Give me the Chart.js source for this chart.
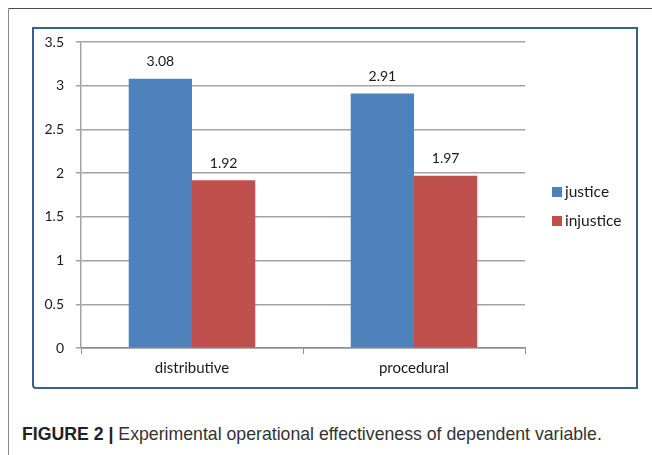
<!DOCTYPE html>
<html>
<head>
<meta charset="utf-8">
<script src="https://cdn.jsdelivr.net/npm/chart.js@4.4.1/dist/chart.umd.min.js"></script>
<style>
    html, body { margin: 0; padding: 0; background: #fff; }
    body { width: 652px; height: 455px; position: relative; overflow: hidden; }
    .frame-top { position: absolute; left: 8px; top: 8px; width: 644px; height: 1px; background: #4a4a4a; }
    .frame-left { position: absolute; left: 8px; top: 8px; width: 1px; height: 447px; background: #8a8a8a; }
    .chart-box {
        position: absolute; left: 32px; top: 27px; width: 602px; height: 358px;
        border: 2px solid #3a5f8f; border-radius: 0 0 0 4px;
    }
    .chart-box canvas { display: block; }
    .caption {
        position: absolute; left: 22px; top: 424px; white-space: nowrap;
        font-family: 'Liberation Sans', Arial, sans-serif; font-size: 17.7px; color: #333;
    }
    .caption b { color: #222; }
</style>
</head>
<body>
<div class="frame-top"></div>
<div class="frame-left"></div>
<div class="chart-box"><canvas id="effectChart" width="602" height="358"></canvas></div>
<div class="caption"><b>FIGURE 2 |</b> Experimental operational effectiveness of dependent variable.</div>

<script>
const categories = ['distributive', 'procedural'];
const justiceValues = [3.08, 2.91];
const injusticeValues = [1.92, 1.97];
const seriesNames = ['justice', 'injustice'];
const yTicks = [0, 0.5, 1, 1.5, 2, 2.5, 3, 3.5];

document.addEventListener('DOMContentLoaded', function () {
    initEffectChart();
});

const fontFamily = "Lato, 'DejaVu Sans', sans-serif";

const valueLabels = {
    id: 'valueLabels',
    afterDatasetsDraw(chart) {
        const ctx = chart.ctx;
        ctx.save();
        ctx.font = '14px ' + fontFamily;
        ctx.fillStyle = '#1a1a1a';
        ctx.textAlign = 'center';
        ctx.textBaseline = 'middle';
        chart.data.datasets.forEach((ds, i) => {
            chart.getDatasetMeta(i).data.forEach((bar, j) => {
                ctx.fillText(ds.data[j].toFixed(2), bar.x, bar.y - 17);
            });
        });
        ctx.restore();
    }
};

const sideLegend = {
    id: 'sideLegend',
    afterDraw(chart) {
        const ctx = chart.ctx;
        const x = chart.chartArea.right + 27;
        ctx.save();
        ctx.font = '15.5px ' + fontFamily;
        ctx.textBaseline = 'middle';
        chart.data.datasets.forEach((ds, i) => {
            const y = 163 + i * 29;
            ctx.fillStyle = ds.backgroundColor;
            ctx.fillRect(x, y - 5, 10, 10);
            ctx.fillStyle = '#1a1a1a';
            ctx.fillText(ds.label, x + 13, y);
        });
        ctx.restore();
    }
};

function initEffectChart() {
    const canvas = document.getElementById('effectChart');
    if (!canvas || typeof Chart === 'undefined') return;

    new Chart(canvas.getContext('2d'), {
        type: 'bar',
        data: {
            labels: categories,
            datasets: [{
                label: seriesNames[0],
                data: justiceValues,
                backgroundColor: '#4f81bd',
                borderWidth: 0
            }, {
                label: seriesNames[1],
                data: injusticeValues,
                backgroundColor: '#c0504d',
                borderWidth: 0
            }]
        },
        plugins: [valueLabels, sideLegend],
        options: {
            responsive: false,
            animation: false,
            layout: { padding: { left: 0, top: 13, right: 111, bottom: 0 } },
            categoryPercentage: 0.57,
            barPercentage: 1.0,
            plugins: {
                legend: { display: false },
                tooltip: { enabled: false }
            },
            scales: {
                x: {
                    afterFit: s => {
                        s.height = 39;
                        s.paddingLeft = 0;
                        s.paddingRight = 0;
                    },
                    grid: {
                        offset: true,
                        drawOnChartArea: false,
                        drawTicks: true,
                        tickLength: 6,
                        color: '#8c8c8c',
                        lineWidth: 1
                    },
                    border: { color: '#8c8c8c', width: 1.5 },
                    ticks: {
                        padding: 5,
                        color: '#1a1a1a',
                        font: { family: fontFamily, size: 15 }
                    }
                },
                y: {
                    min: 0,
                    max: 3.5,
                    afterFit: s => {
                        s.width = 47;
                        s.paddingTop = 0;
                        s.paddingBottom = 0;
                    },
                    afterBuildTicks: s => { s.ticks = yTicks.map(v => ({ value: v })); },
                    grid: {
                        color: '#a3a3a3',
                        lineWidth: 1.5,
                        tickLength: 5
                    },
                    border: { color: '#a3a3a3', width: 1.5 },
                    ticks: {
                        padding: 12,
                        color: '#1a1a1a',
                        font: { family: fontFamily, size: 14 },
                        callback: v => String(v)
                    }
                }
            }
        }
    });
}
</script>
</body>
</html>
